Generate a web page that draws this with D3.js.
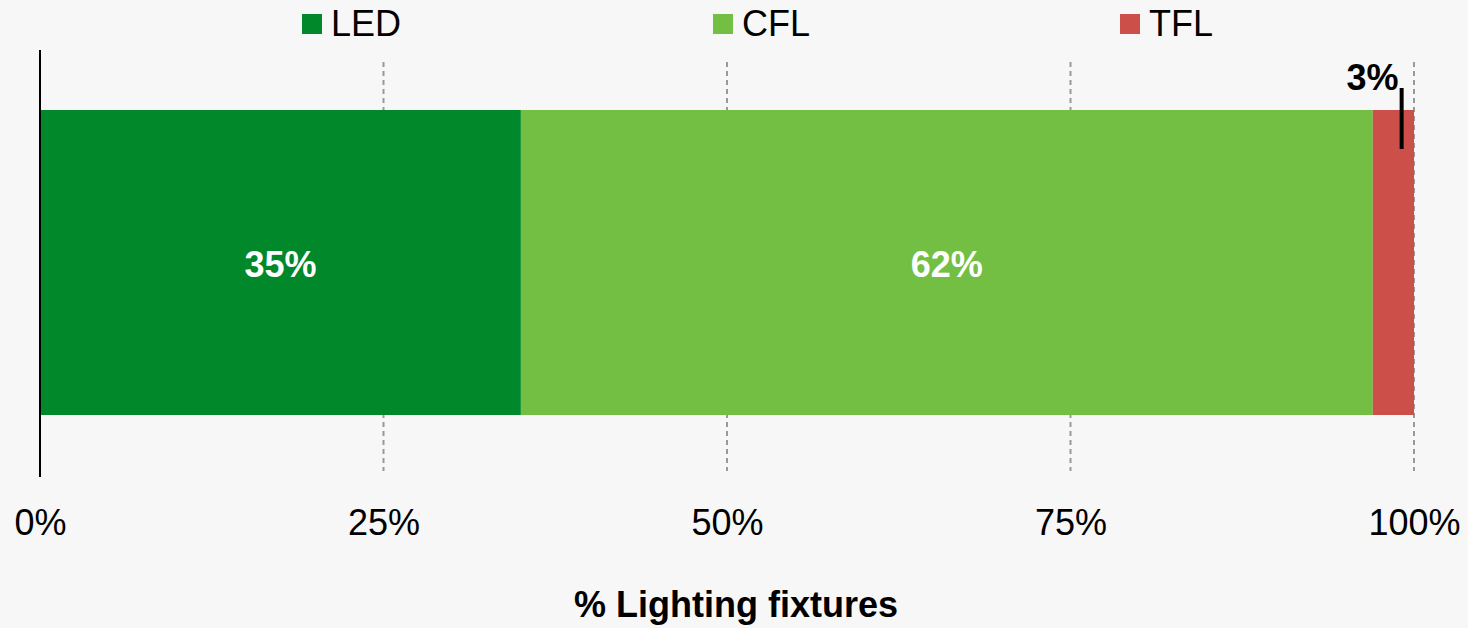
<!DOCTYPE html>
<html>
<head>
<meta charset="utf-8">
<script src="https://cdn.jsdelivr.net/npm/d3@7"></script>
<style>
body { margin: 0; background: #f7f7f7; }
svg { display: block; font-family: "Liberation Sans", Arial, sans-serif; }
</style>
</head>
<body>
<div id="chart"></div>
<script>
// data
var categories = ["LED", "CFL", "TFL"];
var values = [35, 62, 3];
var colors = ["#00882b", "#72bf44", "#cd4f4a"];
var ticks = [0, 25, 50, 75, 100];
var xtitle = "% Lighting fixtures";

var W = 1468, H = 628;
var margin = { top: 50, right: 54, bottom: 152, left: 40 };
var fs = 36;

var svg = d3.select("#chart").append("svg")
	.attr("width", W)
	.attr("height", H);

svg.append("rect").attr("width", W).attr("height", H).attr("fill", "#f7f7f7");

var x = d3.scaleLinear().domain([0, 100]).range([margin.left, W - margin.right]);

// stacked segments
var segs = [];
var acc = 0;
categories.forEach( (c, i) => {
	segs.push({ name: c, v: values[i], x0: acc, x1: acc + values[i], color: colors[i] });
	acc += values[i];
});

// grid
svg.append("g").selectAll("line")
	.data(ticks.filter(t => t > 0))
	.join("line")
		.attr("x1", d => x(d)).attr("x2", d => x(d))
		.attr("y1", 62).attr("y2", 471)
		.attr("stroke", "#999")
		.attr("stroke-width", 2)
		.attr("stroke-dasharray", "5,4");

// bars
svg.append("g").selectAll("rect")
	.data(segs)
	.join("rect")
		.attr("x", d => x(d.x0))
		.attr("y", 110)
		.attr("width", d => x(d.x1) - x(d.x0))
		.attr("height", 305)
		.attr("fill", d => d.color);

// inside labels
svg.append("g").selectAll("text")
	.data(segs.filter(d => d.v >= 10))
	.join("text")
		.attr("x", d => (x(d.x0) + x(d.x1)) / 2)
		.attr("y", 277)
		.attr("text-anchor", "middle")
		.attr("fill", "#fff")
		.attr("font-weight", "bold")
		.attr("font-size", fs)
		.text(d => d.v + "%");

// small segment callout
var small = segs.filter(d => d.v < 10);
svg.append("g").selectAll("line")
	.data(small)
	.join("line")
		.attr("x1", d => x(d.x0 + d.v * 0.7)).attr("x2", d => x(d.x0 + d.v * 0.7))
		.attr("y1", 88).attr("y2", 149)
		.attr("stroke", "#000")
		.attr("stroke-width", 4);
svg.append("g").selectAll("text")
	.data(small)
	.join("text")
		.attr("x", d => x(d.x0 + d.v * 0.7) - 3)
		.attr("y", 90)
		.attr("text-anchor", "end")
		.attr("font-weight", "bold")
		.attr("font-size", fs)
		.text(d => d.v + "%");

// y axis line
svg.append("line")
	.attr("x1", x(0)).attr("x2", x(0))
	.attr("y1", 50).attr("y2", 477)
	.attr("stroke", "#000")
	.attr("stroke-width", 2);

// x axis labels
var xaxis = svg.append("g")
	.attr("transform", "translate(0,535)")
	.call(d3.axisBottom(x).tickValues(ticks).tickFormat(d => d + "%").tickSize(0).tickPadding(0));
xaxis.select(".domain").remove();
xaxis.selectAll("text")
	.attr("font-size", fs)
	.attr("font-family", "Liberation Sans, Arial, sans-serif")
	.attr("fill", "#000")
	.attr("dy", 0);

// x title
svg.append("text")
	.attr("x", 736)
	.attr("y", 617)
	.attr("text-anchor", "middle")
	.attr("font-weight", "bold")
	.attr("font-size", fs)
	.text(xtitle);

// legend
var legx = [302, 713, 1120];
var leg = svg.append("g").selectAll("g")
	.data(segs)
	.join("g")
		.attr("transform", (d, i) => `translate(${legx[i]},0)`);
leg.append("rect")
	.attr("x", 0).attr("y", 14)
	.attr("width", 20).attr("height", 20)
	.attr("fill", d => d.color);
leg.append("text")
	.attr("x", 29).attr("y", 36)
	.attr("font-size", fs)
	.text(d => d.name);
</script>
</body>
</html>
